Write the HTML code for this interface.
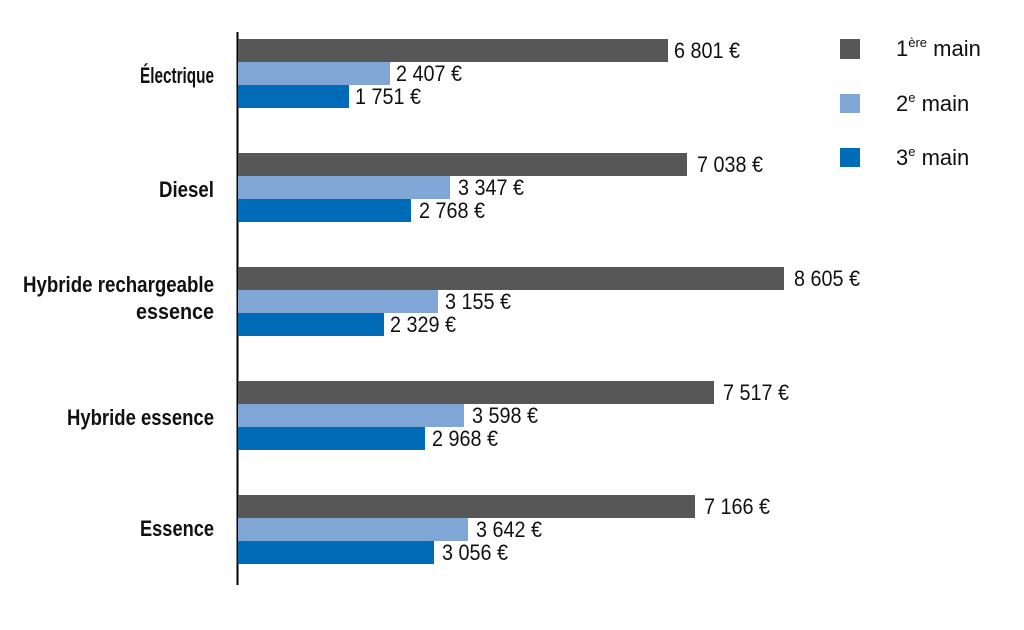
<!DOCTYPE html>
<html><head><meta charset="utf-8"><style>html,body{margin:0;padding:0;background:#fff;}svg{display:block}</style></head>
<body>
<svg width="1024" height="630" xmlns="http://www.w3.org/2000/svg" font-family="Liberation Sans, sans-serif">
<line x1="237.5" y1="32" x2="237.5" y2="585" stroke="#000" stroke-width="2"/>
<rect x="238" y="39" width="430" height="23" fill="#575757"/>
<rect x="238" y="62" width="152" height="23" fill="#7fa6d4"/>
<rect x="238" y="85" width="111" height="23" fill="#006bb6"/>
<rect x="238" y="153" width="449" height="23" fill="#575757"/>
<rect x="238" y="176" width="212" height="23" fill="#7fa6d4"/>
<rect x="238" y="199" width="173" height="23" fill="#006bb6"/>
<rect x="238" y="267" width="546" height="23" fill="#575757"/>
<rect x="238" y="290" width="200" height="23" fill="#7fa6d4"/>
<rect x="238" y="313" width="146" height="23" fill="#006bb6"/>
<rect x="238" y="381" width="476" height="23" fill="#575757"/>
<rect x="238" y="404" width="226" height="23" fill="#7fa6d4"/>
<rect x="238" y="427" width="187" height="23" fill="#006bb6"/>
<rect x="238" y="495" width="457" height="23" fill="#575757"/>
<rect x="238" y="518" width="230" height="23" fill="#7fa6d4"/>
<rect x="238" y="541" width="196" height="23" fill="#006bb6"/>

<g font-size="22" fill="#111">
<text x="674" y="58" textLength="66" lengthAdjust="spacingAndGlyphs">6 801 €</text>
<text x="396" y="81" textLength="66" lengthAdjust="spacingAndGlyphs">2 407 €</text>
<text x="355" y="104" textLength="66" lengthAdjust="spacingAndGlyphs">1 751 €</text>
<text x="697" y="172" textLength="66" lengthAdjust="spacingAndGlyphs">7 038 €</text>
<text x="458" y="195" textLength="66" lengthAdjust="spacingAndGlyphs">3 347 €</text>
<text x="419" y="218" textLength="66" lengthAdjust="spacingAndGlyphs">2 768 €</text>
<text x="794" y="286" textLength="66" lengthAdjust="spacingAndGlyphs">8 605 €</text>
<text x="445" y="309" textLength="66" lengthAdjust="spacingAndGlyphs">3 155 €</text>
<text x="390" y="332" textLength="66" lengthAdjust="spacingAndGlyphs">2 329 €</text>
<text x="723" y="400" textLength="66" lengthAdjust="spacingAndGlyphs">7 517 €</text>
<text x="472" y="423" textLength="66" lengthAdjust="spacingAndGlyphs">3 598 €</text>
<text x="432" y="446" textLength="66" lengthAdjust="spacingAndGlyphs">2 968 €</text>
<text x="704" y="514" textLength="66" lengthAdjust="spacingAndGlyphs">7 166 €</text>
<text x="476" y="537" textLength="66" lengthAdjust="spacingAndGlyphs">3 642 €</text>
<text x="442" y="560" textLength="66" lengthAdjust="spacingAndGlyphs">3 056 €</text>
</g>

<g font-size="22" fill="#111" text-anchor="end" font-weight="bold">
<text x="214" y="83" textLength="74" lengthAdjust="spacingAndGlyphs">Électrique</text>
<text x="214" y="197" textLength="55" lengthAdjust="spacingAndGlyphs">Diesel</text>
<text x="214" y="292" textLength="191" lengthAdjust="spacingAndGlyphs">Hybride rechargeable</text>
<text x="214" y="319" textLength="78" lengthAdjust="spacingAndGlyphs">essence</text>
<text x="214" y="425" textLength="147" lengthAdjust="spacingAndGlyphs">Hybride essence</text>
<text x="214" y="536" textLength="74" lengthAdjust="spacingAndGlyphs">Essence</text>
</g>

<rect x="840" y="39" width="20" height="20" fill="#575757"/>
<rect x="840" y="94" width="20" height="19" fill="#7fa6d4"/>
<rect x="840" y="148" width="20" height="19" fill="#006bb6"/>
<g font-size="22" fill="#111">
<text x="896" y="56">1<tspan font-size="13" dy="-9">ère</tspan><tspan dy="9"> main</tspan></text>
<text x="896" y="111">2<tspan font-size="13" dy="-9">e</tspan><tspan dy="9"> main</tspan></text>
<text x="896" y="165">3<tspan font-size="13" dy="-9">e</tspan><tspan dy="9"> main</tspan></text>
</g>
</svg>
</body></html>
